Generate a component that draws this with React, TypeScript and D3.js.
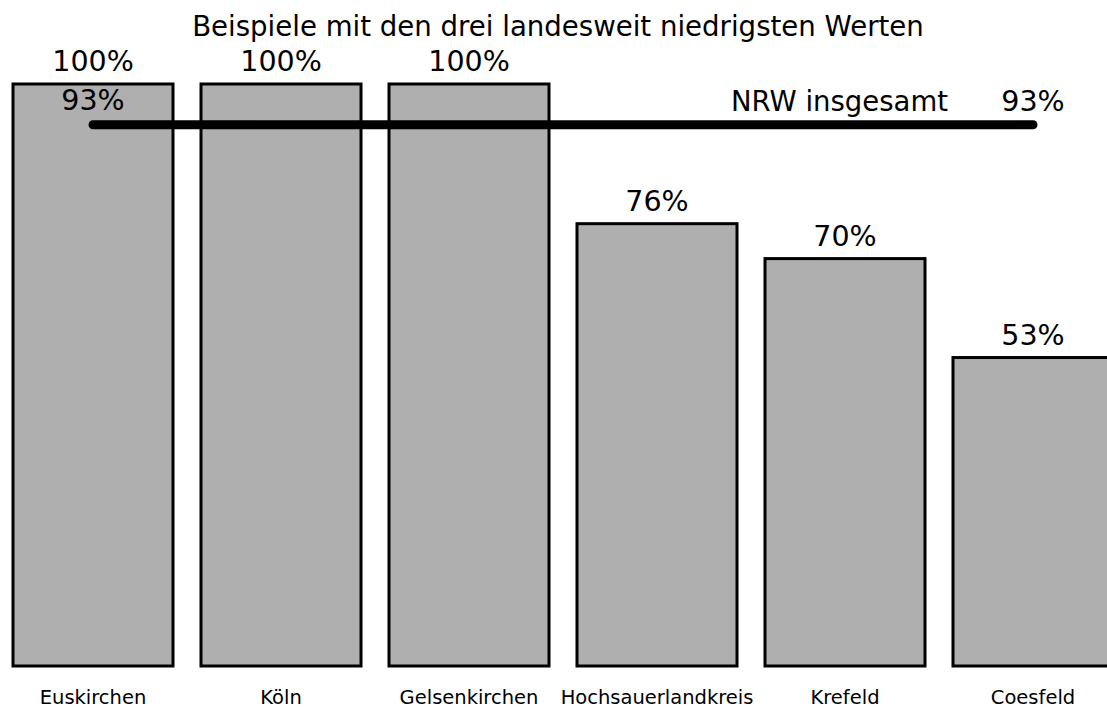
import React from "react";
import * as d3 from "d3";

const width = 1107;
const height = 709;

const title = "Beispiele mit den drei landesweit niedrigsten Werten";
const categories = ["Euskirchen", "Köln", "Gelsenkirchen", "Hochsauerlandkreis", "Krefeld", "Coesfeld"];
const values = [100, 100, 100, 76, 70, 53];
const totalLabel = "NRW insgesamt";
const totalValue = 93;

const font = "DejaVu Sans";

const App = () => {
  const x = d3
    .scaleBand<string>()
    .domain(categories)
    .range([13, 13 + 5 * 188 + 160])
    .paddingInner(28 / 188)
    .paddingOuter(0);
  const y = d3.scaleLinear().domain([0, 100]).range([666, 84]);

  const first = x(categories[0])! + x.bandwidth() / 2;
  const last = x(categories[categories.length - 1])! + x.bandwidth() / 2;
  const yTotal = y(totalValue);

  return (
    <svg
      width={width}
      height={height}
      style={{ position: "absolute", left: 0, top: 0 }}
      fontFamily={font}
    >
      <text x={558} y={36} textAnchor="middle" fontSize={27.6} fill="#000">
        {title}
      </text>
      {categories.map((c, i) => (
        <g key={c}>
          <rect
            x={x(c)}
            y={y(values[i])}
            width={x.bandwidth()}
            height={y(0) - y(values[i])}
            fill="#afafaf"
            stroke="#000"
            strokeWidth={3}
          />
          <text
            x={x(c)! + x.bandwidth() / 2}
            y={y(values[i]) - 13}
            textAnchor="middle"
            fontSize={28.5}
          >
            {values[i]}%
          </text>
          <text x={x(c)! + x.bandwidth() / 2} y={704} textAnchor="middle" fontSize={19.5}>
            {c}
          </text>
        </g>
      ))}
      <line
        x1={first}
        x2={last}
        y1={yTotal}
        y2={yTotal}
        stroke="#000"
        strokeWidth={9}
        strokeLinecap="round"
      />
      <text x={first} y={yTotal - 15} textAnchor="middle" fontSize={28.5}>
        {totalValue}%
      </text>
      <text x={948} y={yTotal - 14} textAnchor="end" fontSize={27.5}>
        {totalLabel}
      </text>
      <text x={last} y={yTotal - 14} textAnchor="middle" fontSize={28.5}>
        {totalValue}%
      </text>
    </svg>
  );
};

export default App;
